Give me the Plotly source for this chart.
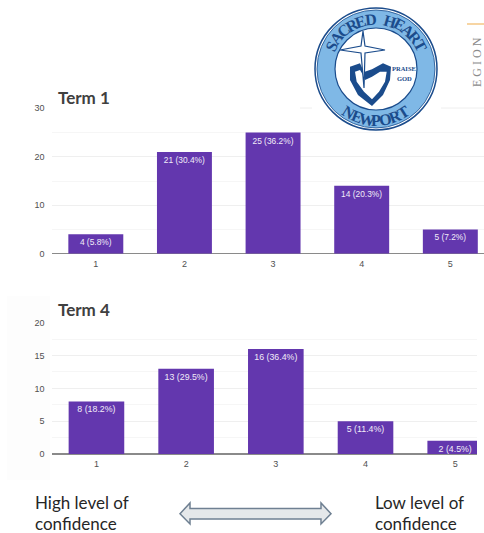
import math
import plotly.graph_objects as go

# Survey responses: confidence rating against number of students
ratings = ["1", "2", "3", "4", "5"]
term1_counts = [4, 21, 25, 14, 5]
term1_pcts = [5.8, 30.4, 36.2, 20.3, 7.2]
term4_counts = [8, 13, 16, 5, 2]
term4_pcts = [18.2, 29.5, 36.4, 11.4, 4.5]

W, H = 484, 533
BAR = "#6337AE"
NAVY = "#1B4C8C"
SKY = "#7FB8E6"


def px(x):
    return x / W


def py(y):
    return 1 - y / H


def poly(points):
    return "M " + " L ".join(f"{px(x):.5f},{py(y):.5f}" for x, y in points) + " Z"


def note(x, y, text, size, color, font="Liberation Sans", angle=0, anchor="center", bold=False):
    label = f"<b>{text}</b>" if bold else text
    return dict(
        xref="paper", yref="paper", x=px(x), y=py(y), text=label, showarrow=False,
        font=dict(family=font, size=size, color=color), textangle=angle,
        xanchor=anchor, yanchor="middle", align="left",
    )


def arc_text(word, cx, cy, radius, start_deg, end_deg, size, upright_top=True):
    # Lays a word out letter by letter around a circle
    out = []
    n = len(word)
    for i, ch in enumerate(word):
        if ch == " ":
            continue
        a = math.radians(start_deg + (end_deg - start_deg) * i / (n - 1))
        x = cx + radius * math.cos(a)
        y = cy - radius * math.sin(a)
        deg = 90 - math.degrees(a) if upright_top else 270 - math.degrees(a)
        out.append(note(x, y, ch, size, NAVY, font="Liberation Serif", angle=deg, bold=True))
    return out


def bars(counts, pcts, xaxis, yaxis, label_size):
    return go.Bar(
        x=ratings, y=counts, xaxis=xaxis, yaxis=yaxis, width=0.62,
        marker=dict(color=BAR, line=dict(width=0)),
        text=[f"{c} ({p}%)" for c, p in zip(counts, pcts)],
        textposition="inside", insidetextanchor="end", textangle=0,
        textfont=dict(family="Liberation Sans", size=label_size, color="#F1ECF8"),
        constraintext="none", hoverinfo="skip", showlegend=False,
    )


fig = go.Figure([
    bars(term1_counts, term1_pcts, "x", "y", 8.4),
    bars(term4_counts, term4_pcts, "x2", "y2", 8.8),
])

tick_font = dict(family="Liberation Sans", size=9, color="#505050")
x_common = dict(
    type="category", showgrid=False, zeroline=False, showline=False, ticks="",
    tickfont=tick_font, ticklabelstandoff=3, fixedrange=True,
)
y_common = dict(
    gridcolor="#EFEFEF", gridwidth=1, zeroline=True, zerolinecolor="#8A8A8A", zerolinewidth=1.5,
    showline=False, ticks="", tickfont=tick_font, ticklabelstandoff=6, fixedrange=True,
)

fig.update_layout(
    width=W, height=H, margin=dict(l=0, r=0, t=0, b=0, autoexpand=False),
    paper_bgcolor="white", plot_bgcolor="rgba(0,0,0,0)", bargap=0.38,
    xaxis=dict(x_common, domain=[px(51.5), 1], range=[-0.5, 4.38], anchor="y"),
    yaxis=dict(y_common, domain=[py(253.7), py(108.3)], range=[0, 30], tickvals=[0, 10, 20, 30],
               minor=dict(dtick=5, showgrid=True, gridcolor="#F6F6F6", gridwidth=1)),
    xaxis2=dict(x_common, domain=[px(51.6), px(477)], range=[-0.5, 4.243], anchor="y2"),
    yaxis2=dict(y_common, domain=[py(454), py(322.7)], range=[0, 20], tickvals=[0, 5, 10, 15, 20],
                minor=dict(dtick=2.5, showgrid=True, gridcolor="#F6F6F6", gridwidth=1)),
)

# Crest geometry
cx, cy = 376, 69
shapes = []


def circle(r, fill, line=None, width=0):
    return dict(type="circle", xref="paper", yref="paper", x0=px(cx - r), x1=px(cx + r),
                y0=py(cy + r), y1=py(cy - r), fillcolor=fill, layer="above",
                line=dict(color=line or fill, width=width))


def path(points, fill, line=None, width=0):
    return dict(type="path", xref="paper", yref="paper", path=poly(points), fillcolor=fill,
                layer="above", line=dict(color=line or fill, width=width))


shield_outer = [(350, 66.7), (360, 63.3), (364, 72), (372, 69.3), (383, 63.3), (391, 66.7),
                (390, 80), (383, 95), (372, 106), (358, 95), (350, 80)]
shield_inner = [(355, 71.7), (360, 70), (363, 75), (365, 80), (372, 76.7), (380, 71.7),
                (386.7, 71.7), (385, 81.7), (379, 91.7), (372, 99.3), (364, 91.7), (356.7, 81.7)]
cross = [(363, 31), (365, 46), (385, 50), (365, 53), (364, 88), (361, 53),
         (340, 50), (361, 46)]

shapes += [
    # Faint page furniture behind the charts
    dict(type="rect", xref="paper", yref="paper", x0=px(7), x1=px(50), y0=py(480), y1=py(296),
         fillcolor="#FDFDFD", line=dict(width=0), layer="below"),
    dict(type="line", xref="paper", yref="paper", x0=px(300), x1=px(312), y0=py(108), y1=py(108),
         line=dict(color="#EEEEEE", width=1)),
    dict(type="line", xref="paper", yref="paper", x0=px(441), x1=1, y0=py(108), y1=py(108),
         line=dict(color="#EEEEEE", width=1)),
    dict(type="line", xref="paper", yref="paper", x0=px(467), x1=1, y0=py(24), y1=py(24),
         line=dict(color="#F5C785", width=1.5)),
    circle(61, "white", NAVY, 1.5),
    circle(59, SKY, NAVY, 0.8),
    circle(41, "white", NAVY, 1.2),
    path(shield_outer, NAVY),
    path(shield_inner, "white"),
    path(cross, "white", NAVY, 1.2),
    # Double-headed arrow between the two confidence captions
    path([(180, 513.7), (190, 503), (190, 508.5), (321, 508.5), (321, 503), (331, 513.7),
          (321, 524), (321, 519), (190, 519), (190, 524)], "#E5E8EA", "#6F8092", 1.5),
]
fig.update_layout(shapes=shapes)

title_font = "Lato"
caption_color = "#262626"
annotations = [
    note(56, 98, "Term 1", 17, "#404040", font=title_font, anchor="left", bold=True),
    note(56, 309, "Term 4", 17, "#404040", font=title_font, anchor="left", bold=True),
    note(33, 502.5, "High level of", 17, caption_color, font=title_font, anchor="left"),
    note(33, 523, "confidence", 17, caption_color, font=title_font, anchor="left"),
    note(373, 502.5, "Low level of", 17, caption_color, font=title_font, anchor="left"),
    note(373, 523, "confidence", 17, caption_color, font=title_font, anchor="left"),
    note(404, 68, "PRAISE", 6.5, NAVY, font="Liberation Serif", bold=True),
    note(404, 79, "GOD", 6.5, NAVY, font="Liberation Serif", bold=True),
    note(477, 62, "E G I O N", 12, "#8C8C8C", font="Liberation Serif", angle=-90),
]
annotations += arc_text("SACRED HEART", cx, cy, 50, 153, 28, 16)
annotations += arc_text("NEWPORT", cx, cy, 51, 238, 302, 16, upright_top=False)
fig.update_layout(annotations=annotations)

fig.write_html("out.html", config=dict(displayModeBar=False, staticPlot=True))
